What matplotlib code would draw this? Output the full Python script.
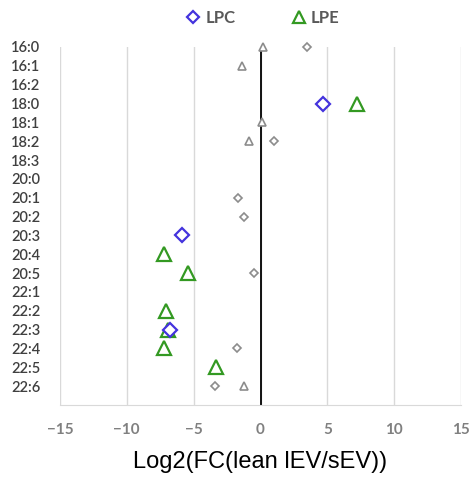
import numpy as np
import matplotlib.pyplot as plt
from matplotlib.lines import Line2D

nan = np.nan

# lipid species, top to bottom
categories = ['16:0', '16:1', '16:2', '18:0', '18:1', '18:2', '18:3',
              '20:0', '20:1', '20:2', '20:3', '20:4', '20:5',
              '22:1', '22:2', '22:3', '22:4', '22:5', '22:6']

# significant changes
lpc_sig = [nan, nan, nan, 4.7, nan, nan, nan, nan, nan, nan, -5.9, nan, nan,
           nan, nan, -6.8, nan, nan, nan]
lpe_sig = [nan, nan, nan, 7.2, nan, nan, nan, nan, nan, nan, nan, -7.2, -5.4,
           nan, -7.05, -6.9, -7.2, -3.3, nan]

# non-significant changes (grey)
lpc_ns = [3.5, nan, nan, nan, nan, 1.0, nan, nan, -1.7, -1.2, nan, nan, -0.5,
          nan, nan, nan, -1.75, nan, -3.4]
lpe_ns = [0.15, -1.35, nan, nan, 0.1, -0.85, nan, nan, nan, nan, nan, nan, nan,
          nan, nan, nan, nan, nan, -1.25]

blue = '#4433DD'
green = '#339922'
grey = '#8C8C8C'

fig = plt.figure(figsize=(4.72, 4.79), dpi=100)
ax = fig.add_axes([0.127, 0.1545, 0.85, 0.7474])

n = len(categories)
y = np.arange(n, 0, -1)

ax.plot(lpc_ns, y, 'D', ms=4, mfc='white', mec=grey, mew=1.2, ls='none', zorder=3, clip_on=False)
ax.plot(lpe_ns, y, '^', ms=5.5, mfc='white', mec=grey, mew=1.2, ls='none', zorder=3, clip_on=False)
ax.plot(lpe_sig, y, '^', ms=10, mfc='white', mec=green, mew=1.6, ls='none', zorder=4, clip_on=False)
ax.plot(lpc_sig, y, 'D', ms=7.5, mfc='white', mec=blue, mew=1.6, ls='none', zorder=5, clip_on=False)

ax.axvline(0, color='black', lw=1.3, zorder=2)

ax.set_xlim(-15, 15)
ax.set_ylim(0, n)
ax.set_xticks(np.arange(-15, 16, 5))
ax.set_yticks(y)
ax.set_yticklabels(categories, fontfamily='Lato', fontweight='semibold',
                   fontsize=10.5, color='#404040')
for lab in ax.get_xticklabels():
    lab.set_fontfamily('Lato')
    lab.set_fontweight('bold')
    lab.set_fontsize(11)
    lab.set_color('#808080')
ax.tick_params(axis='both', length=0)
ax.tick_params(axis='x', pad=13)
ax.tick_params(axis='y', pad=14)

ax.grid(axis='x', color='#D9D9D9', lw=1)
ax.set_axisbelow(True)
for s in ['top', 'left', 'right']:
    ax.spines[s].set_visible(False)
ax.spines['bottom'].set_color('#D9D9D9')

ax.set_xlabel('Log2(FC(lean lEV/sEV))', fontfamily='Liberation Sans',
              fontsize=17, labelpad=10)

handles = [
    Line2D([], [], marker='D', ms=6, mfc='white', mec=blue, mew=1.6, ls='none'),
    Line2D([], [], marker='^', ms=8, mfc='white', mec=green, mew=1.6, ls='none'),
]
leg = fig.legend(handles, ['LPC', 'LPE'], loc='upper center',
                 bbox_to_anchor=(0.557, 1.01), ncol=2, frameon=False,
                 handlelength=0.8, handletextpad=0.3, columnspacing=3.4,
                 prop={'family': 'Lato', 'weight': 'bold', 'size': 12})
for t in leg.get_texts():
    t.set_color('#595959')

fig.savefig('out.png', dpi=100)
